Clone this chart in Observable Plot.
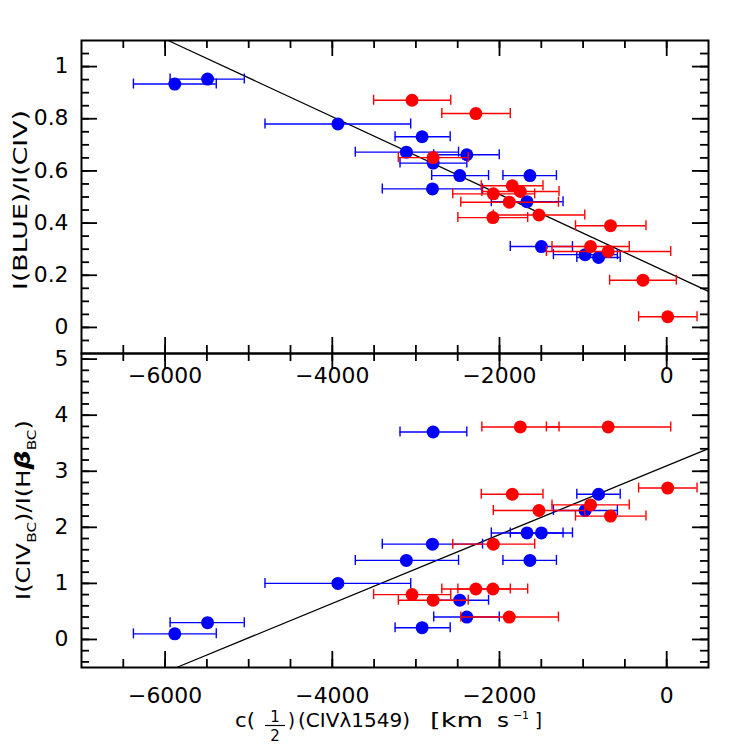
<!DOCTYPE html>
<html>
<head>
<meta charset="utf-8">
<script src="https://cdn.jsdelivr.net/npm/d3@7"></script>
<script src="https://cdn.jsdelivr.net/npm/@observablehq/plot@0.6"></script>
<style>
  body { margin: 0; background: #fff; }
  #wrap { position: relative; width: 747px; height: 747px; font-family: "DejaVu Sans", sans-serif; }
  #wrap svg { position: absolute; left: 0; overflow: visible; }
</style>
</head>
<body>
<div id="wrap"></div>
<script>
// ---- data ----
const blueX    = [-5884, -5492, -3933, -3114, -2926, -2802, -2794, -2475, -2391, -1671, -1636, -1499, -976, -815];
const blueLo   = [-6379, -5940, -4805, -3725, -3249, -3402, -3190, -2811, -2787, -2098, -1959, -1871, -1355, -1075];
const blueHi   = [-5388, -5053, -3062, -2490, -2590, -2203, -2391, -2131, -2003, -1240, -1319, -1127, -590, -556];
const blueTop  = [0.933, 0.952, 0.780, 0.672, 0.731, 0.531, 0.630, 0.582, 0.662, 0.482, 0.582, 0.310, 0.279, 0.268];
const blueBot  = [0.10, 0.30, 1.00, 1.41, 0.21, 1.70, 3.70, 0.70, 0.40, 1.90, 1.41, 1.90, 2.30, 2.59];

const redX     = [-3046, -2794, -2283, -2079, -2074, -1883, -1847, -1751, -1528, -911, -700, -672, -284, 12];
const redLo    = [-3506, -3210, -2690, -2498, -2559, -2463, -2218, -2211, -2074, -1372, -1439, -1091, -683, -336];
const redHi    = [-2583, -2374, -1871, -1663, -1579, -1295, -1480, -1288, -980, -448, 48, -248, 115, 363];
const redTop   = [0.871, 0.651, 0.820, 0.421, 0.512, 0.480, 0.543, 0.521, 0.431, 0.310, 0.291, 0.390, 0.181, 0.041];
const redBot   = [0.80, 0.70, 0.90, 0.90, 1.70, 0.40, 2.59, 3.79, 2.30, 2.40, 3.79, 2.20, null, 2.70];

// fitted lines (end points where they meet the frame)
const topFitX = [-5964, 500];
const topFitY = [1.1, 0.138];
const botFitX = [-5863, 500];
const botFitY = [-0.5, 3.405];

// axes
const xDomain = [-7000, 500];
const xMajor = [-6000, -4000, -2000, 0];
const xMinor = [-6500, -6000, -5500, -5000, -4500, -4000, -3500, -3000, -2500, -2000, -1500, -1000, -500, 0];
const topDomain = [-0.1, 1.1];
const topMajor = [0, 0.2, 0.4, 0.6, 0.8, 1];
const topMinor = [-0.05, 0, 0.05, 0.1, 0.15, 0.2, 0.25, 0.3, 0.35, 0.4, 0.45, 0.5, 0.55, 0.6, 0.65, 0.7, 0.75, 0.8, 0.85, 0.9, 0.95, 1, 1.05];
const botDomain = [-0.5, 5.1];
const botMajor = [0, 1, 2, 3, 4, 5];
const botMinor = [-0.4, -0.2, 0, 0.2, 0.4, 0.6, 0.8, 1, 1.2, 1.4, 1.6, 1.8, 2, 2.2, 2.4, 2.6, 2.8, 3, 3.2, 3.4, 3.6, 3.8, 4, 4.2, 4.4, 4.6, 4.8, 5];

const topYLabel = "I(BLUE)/I(CIV)";

// ---- layout ----
const WIDTH = 747, ML = 81, MR = 39;
const FW = WIDTH - ML - MR;
const BLUE = "#0000ff", RED = "#ff0000";
const FONT = "'DejaVu Sans', sans-serif";
const fmt = d => d < 0 ? "\u2212" + (-d) : String(d);

function rows(xs, lo, hi, ys) {
  return xs.map((x, i) => ({x, lo: lo[i], hi: hi[i], y: ys[i]})).filter(d => d.y != null);
}

function seriesMarks(data, color) {
  return [
    Plot.ruleY(data, {y: "y", x1: "lo", x2: "hi", stroke: color, strokeWidth: 1.4}),
    Plot.ruleX(data, {x: "lo", y1: "y", y2: "y", insetTop: -5, insetBottom: -5, stroke: color, strokeWidth: 1.4}),
    Plot.ruleX(data, {x: "hi", y1: "y", y2: "y", insetTop: -5, insetBottom: -5, stroke: color, strokeWidth: 1.4}),
    Plot.dot(data, {x: "x", y: "y", r: 6.5, fill: color, stroke: null})
  ];
}

function panel({H, marginTop, marginBottom, yDomain, yMajor, yMinor, fitX, fitY, blue, red, xPad}) {
  const tw = 1.8;
  return Plot.plot({
    width: WIDTH,
    height: marginTop + H + marginBottom,
    marginLeft: ML, marginRight: MR, marginTop, marginBottom,
    x: {domain: xDomain},
    y: {domain: yDomain},
    style: {background: "transparent", overflow: "visible", fontFamily: FONT, fontSize: "21px", color: "black"},
    marks: [
      Plot.line(fitX.map((x, i) => [x, fitY[i]]), {stroke: "black", strokeWidth: 1.3}),
      ...seriesMarks(blue, BLUE),
      ...seriesMarks(red, RED),
      Plot.tickY(yMajor, {y: d => d, insetRight: FW - 16, strokeWidth: tw}),
      Plot.tickY(yMajor, {y: d => d, insetLeft: FW - 16, strokeWidth: tw}),
      Plot.tickY(yMinor, {y: d => d, insetRight: FW - 8, strokeWidth: tw}),
      Plot.tickY(yMinor, {y: d => d, insetLeft: FW - 8, strokeWidth: tw}),
      Plot.tickX(xMajor, {x: d => d, insetBottom: H - 16, strokeWidth: tw}),
      Plot.tickX(xMajor, {x: d => d, insetTop: H - 16, strokeWidth: tw}),
      Plot.tickX(xMinor, {x: d => d, insetBottom: H - 8, strokeWidth: tw}),
      Plot.tickX(xMinor, {x: d => d, insetTop: H - 8, strokeWidth: tw}),
      Plot.frame({stroke: "black", strokeWidth: 2}),
      Plot.axisY(yMajor, {anchor: "left", tickSize: 0, tickPadding: 13, tickFormat: fmt, label: null}),
      Plot.axisX(xMajor, {anchor: "bottom", tickSize: 0, tickPadding: xPad, tickFormat: fmt, label: null})
    ]
  });
}

const wrap = document.getElementById("wrap");

const botSvg = panel({
  H: 314, marginTop: 40, marginBottom: 80,
  yDomain: botDomain, yMajor: botMajor, yMinor: botMinor,
  fitX: botFitX, fitY: botFitY,
  blue: rows(blueX, blueLo, blueHi, blueBot),
  red: rows(redX, redLo, redHi, redBot),
  xPad: 21
});
botSvg.style.top = "313px";
wrap.appendChild(botSvg);

const topSvg = panel({
  H: 313, marginTop: 40, marginBottom: 40,
  yDomain: topDomain, yMajor: topMajor, yMinor: topMinor,
  fitX: topFitX, fitY: topFitY,
  blue: rows(blueX, blueLo, blueHi, blueTop),
  red: rows(redX, redLo, redHi, redTop),
  xPad: 15
});
topSvg.style.top = "0px";
wrap.appendChild(topSvg);

// The reference's plotting font is wide: stretch tick labels so that "−6000" is ~74px wide.
(function widenTickLabels() {
  const probe = d3.select(topSvg).append("text").attr("font-size", 21).text("\u22126000");
  const w = probe.node().getComputedTextLength();
  probe.remove();
  const k = 74 / w;
  for (const svg of [topSvg, botSvg]) {
    svg.querySelectorAll('g[aria-label$="tick label"] text').forEach(t => {
      const tw = t.getComputedTextLength();
      t.setAttribute("textLength", (tw * k).toFixed(2));
      t.setAttribute("lengthAdjust", "spacingAndGlyphs");
    });
  }
})();

// y labels
d3.select(topSvg).append("text")
  .attr("transform", "translate(27,200) rotate(-90)")
  .attr("text-anchor", "middle")
  .attr("font-size", 19)
  .attr("fill", "black")
  .attr("textLength", 180)
  .attr("lengthAdjust", "spacingAndGlyphs")
  .text(topYLabel);

const bl = d3.select(botSvg).append("text")
  .attr("transform", "translate(30,197) rotate(-90)")
  .attr("text-anchor", "middle")
  .attr("font-size", 19)
  .attr("fill", "black")
  .attr("textLength", 180)
  .attr("lengthAdjust", "spacingAndGlyphs");
bl.append("tspan").text("I(CIV");
bl.append("tspan").attr("font-size", 12).attr("dy", 6).text("BC");
bl.append("tspan").attr("dy", -6).text(")/I(H");
bl.append("tspan").attr("font-style", "italic").attr("font-weight", "bold").attr("font-size", 21).text("\u03b2");
bl.append("tspan").attr("font-size", 12).attr("dy", 6).text("BC");
bl.append("tspan").attr("dy", -6).text(")");

// x label
const ov = d3.select(wrap).append("svg")
  .attr("width", 747).attr("height", 747)
  .style("top", "0px").style("pointer-events", "none")
  .attr("font-family", FONT).attr("fill", "black");
function piece(str, x, y, size, len) {
  const t = ov.append("text").attr("x", x).attr("y", y).attr("font-size", size).text(str);
  if (len) t.attr("textLength", len).attr("lengthAdjust", "spacingAndGlyphs");
  return t;
}
piece("c(", 235, 727, 19, 20);
piece("1", 275, 722, 15).attr("text-anchor", "middle");
ov.append("line").attr("x1", 265).attr("x2", 285).attr("y1", 725.5).attr("y2", 725.5).attr("stroke", "black").attr("stroke-width", 1.2);
piece("2", 275, 741, 15).attr("text-anchor", "middle");
piece(")", 288, 727, 19, 7);
piece("(CIV\u03bb1549)", 298, 727, 19, 112);
piece("[km", 430, 727, 19, 53);
piece("s", 497, 727, 19, 12);
piece("\u22121", 513, 719, 11, 16);
piece("]", 535, 727, 19, 7);
</script>
</body>
</html>
